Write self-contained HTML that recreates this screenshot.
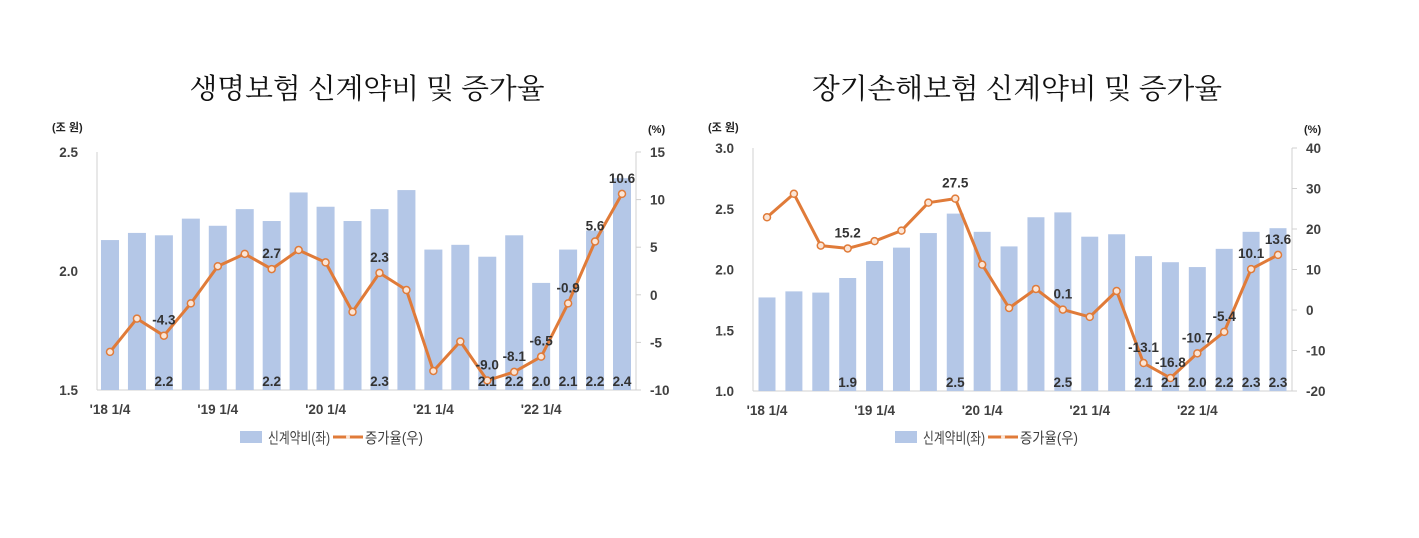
<!DOCTYPE html>
<html><head><meta charset="utf-8">
<style>
html,body{margin:0;padding:0;background:#fff;}
svg{display:block;}
text{font-family:"Liberation Sans","Noto Sans CJK KR",sans-serif;}
.title{font-family:"Liberation Serif","Noto Serif CJK SC",serif;font-size:28px;fill:#111;}
.tick{font-size:13.5px;font-weight:bold;fill:#404040;}
.unit{font-size:11px;font-weight:bold;fill:#222;}
.lbl{font-size:13.5px;font-weight:bold;fill:#333;}
.leg{font-size:15px;fill:#404040;}
</style></head>
<body>
<svg id="svg" width="1419" height="538" viewBox="0 0 1419 538"></svg>
<script>
// ---- Life insurance (left chart) data ----
const lifeCategories = ["'18 1/4","","","","'19 1/4","","","","'20 1/4","","","","'21 1/4","","","","'22 1/4","","",""];
const lifeCost = [2.13,2.16,2.15,2.22,2.19,2.26,2.21,2.33,2.27,2.21,2.26,2.34,2.09,2.11,2.06,2.15,1.95,2.09,2.17,2.39];
const lifeRate = [-6.0,-2.5,-4.3,-0.9,3.0,4.3,2.7,4.7,3.4,-1.8,2.3,0.5,-8.0,-4.9,-9.0,-8.1,-6.5,-0.9,5.6,10.6];
const lifeCostLabels = ["","","2.2","","","","2.2","","","","2.3","","","","2.1","2.2","2.0","2.1","2.2","2.4"];
const lifeRateLabels = ["","","-4.3","","","","2.7","","","","2.3","","","","-9.0","-8.1","-6.5","-0.9","5.6","10.6"];
const lifeLeftTicks = [1.5,2.0,2.5];
const lifeRightTicks = [-10,-5,0,5,10,15];

// ---- Long-term non-life insurance (right chart) data ----
const nonlifeCategories = ["'18 1/4","","","","'19 1/4","","","","'20 1/4","","","","'21 1/4","","","","'22 1/4","","",""];
const nonlifeCost = [1.77,1.82,1.81,1.93,2.07,2.18,2.30,2.46,2.31,2.19,2.43,2.47,2.27,2.29,2.11,2.06,2.02,2.17,2.31,2.34];
const nonlifeRate = [22.9,28.7,15.9,15.2,17.0,19.6,26.5,27.5,11.2,0.5,5.2,0.1,-1.7,4.7,-13.1,-16.8,-10.7,-5.4,10.1,13.6];
const nonlifeCostLabels = ["","","","1.9","","","","2.5","","","","2.5","","","2.1","2.1","2.0","2.2","2.3","2.3"];
const nonlifeRateLabels = ["","","","15.2","","","","27.5","","","","0.1","","","-13.1","-16.8","-10.7","-5.4","10.1","13.6"];
const nonlifeLeftTicks = [1.0,1.5,2.0,2.5,3.0];
const nonlifeRightTicks = [-20,-10,0,10,20,30,40];

const NS="http://www.w3.org/2000/svg";
const svg=document.getElementById('svg');
function mk(tag,attrs,parent,txt){const e=document.createElementNS(NS,tag);for(const k in attrs)e.setAttribute(k,attrs[k]);if(txt!==undefined)e.textContent=txt;(parent||svg).appendChild(e);return e;}

function drawChart(o){
  const g=mk('g',{});
  
  
  const yL=v=>o.y1-(v-o.lmin)/(o.lmax-o.lmin)*(o.y1-o.y0);
  const yR=v=>o.y1-(v-o.rmin)/(o.rmax-o.rmin)*(o.y1-o.y0);
  const n=o.cost.length;
  const xc=i=>o.xFirst+i*(o.xLast-o.xFirst)/(n-1);
  const t=mk('text',{x:o.titleX-o.titleW/2,y:98,class:'title',textLength:o.titleW,lengthAdjust:'spacingAndGlyphs'},g,o.title);
  
  
  const u1=mk('text',{x:o.ax0-45,y:131,class:'unit'},g,'(조 원)');
  
  
  const u2=mk('text',{x:o.ax1+12,y:133,class:'unit'},g,'(%)');
  
  
  const al=mk('line',{x1:o.ax0,y1:o.y0,x2:o.ax0,y2:o.y1,stroke:'#d0d0d0','stroke-width':1},g);
  
  
  const ar=mk('line',{x1:o.ax1,y1:o.y0,x2:o.ax1,y2:o.y1,stroke:'#d0d0d0','stroke-width':1},g);
  
  
  const ab=mk('line',{x1:o.ax0,y1:o.y1,x2:o.ax1,y2:o.y1,stroke:'#d0d0d0','stroke-width':1},g);
  
  
  o.lt.forEach(v=>{const e=mk('text',{x:o.ax0-19,y:yL(v)+5,'text-anchor':'end',class:'tick'},g,v.toFixed(1));
    
    });
  o.rt.forEach(v=>{mk('line',{x1:o.ax1,y1:yR(v),x2:o.ax1+5,y2:yR(v),stroke:'#d0d0d0'},g);
    const e=mk('text',{x:o.ax1+14,y:yR(v)+5,class:'tick'},g,String(v));
    
    });
  o.cost.forEach((v,i)=>{const b=mk('rect',{x:xc(i)-o.bw/2,y:yL(v),width:o.bw,height:o.y1-yL(v),fill:'#b4c7e7'},g);
    
    });
  o.cats.forEach((c,i)=>{if(!c)return;const e=mk('text',{x:xc(i),y:o.y1+24,'text-anchor':'middle',class:'tick'},g,c);
    
    });
  const pts=o.rate.map((v,i)=>xc(i).toFixed(1)+','+yR(v).toFixed(1)).join(' ');
  const pl=mk('polyline',{points:pts,fill:'none',stroke:'#e07b39','stroke-width':3,'stroke-linejoin':'round'},g);
  
  
  o.rate.forEach((v,i)=>{const c=mk('circle',{cx:xc(i),cy:yR(v),r:3.5,fill:'#fbe5d6',stroke:'#e07b39','stroke-width':1.5},g);
    
    });
  o.costLbl.forEach((s,i)=>{if(!s)return;const e=mk('text',{x:xc(i),y:o.y1-4,'text-anchor':'middle',class:'lbl'},g,s);
    
    });
  o.rateLbl.forEach((s,i)=>{if(!s)return;const e=mk('text',{x:xc(i),y:yR(o.rate[i])-11,'text-anchor':'middle',class:'lbl'},g,s);
    
    });
  const lr=mk('rect',{x:o.legX,y:431,width:22,height:12,fill:'#b4c7e7'},g);
  
  
  const l1=mk('text',{x:o.legX+28,y:443,class:'leg',textLength:62,lengthAdjust:'spacingAndGlyphs'},g,'신계약비(좌)');
  
  
  const ll=mk('line',{x1:o.legX+93,y1:437,x2:o.legX+123,y2:437,stroke:'#e07b39','stroke-width':3},g);
  
  
  mk('circle',{cx:o.legX+108,cy:437,r:2,fill:'#fbe5d6'},g);
  const l2=mk('text',{x:o.legX+125,y:443,class:'leg',textLength:58,lengthAdjust:'spacingAndGlyphs'},g,'증가율(우)');
  
  
}

drawChart({name:'life-insurance-chart',title:'생명보험 신계약비 및 증가율',titleX:367,titleW:355,
  cats:lifeCategories,cost:lifeCost,rate:lifeRate,costLbl:lifeCostLabels,rateLbl:lifeRateLabels,
  lt:lifeLeftTicks,rt:lifeRightTicks,lmin:1.5,lmax:2.5,rmin:-10,rmax:15,
  ax0:97,ax1:636,y0:152,y1:390,xFirst:110,xLast:622,bw:18,legX:240});
drawChart({name:'nonlife-insurance-chart',title:'장기손해보험 신계약비 및 증가율',titleX:1017,titleW:410,
  cats:nonlifeCategories,cost:nonlifeCost,rate:nonlifeRate,costLbl:nonlifeCostLabels,rateLbl:nonlifeRateLabels,
  lt:nonlifeLeftTicks,rt:nonlifeRightTicks,lmin:1.0,lmax:3.0,rmin:-20,rmax:40,
  ax0:753,ax1:1292,y0:148,y1:391,xFirst:767,xLast:1278,bw:17,legX:895});
</script>
</body></html>
